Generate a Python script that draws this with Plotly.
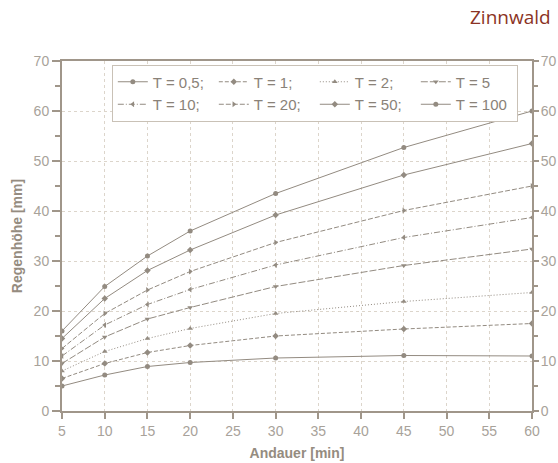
import plotly.graph_objects as go

# Rainfall depth (mm) by duration (min) for return periods T (years)
durations = [5, 10, 15, 20, 30, 45, 60]
return_labels = ["T = 0,5;", "T = 1;", "T = 2;", "T = 5", "T = 10;", "T = 20;", "T = 50;", "T = 100"]
depth_t05 = [5.0, 7.2, 8.9, 9.7, 10.6, 11.1, 11.0]
depth_t1 = [6.5, 9.5, 11.7, 13.1, 15.0, 16.4, 17.5]
depth_t2 = [8.0, 11.9, 14.5, 16.5, 19.5, 21.9, 23.7]
depth_t5 = [9.5, 14.8, 18.4, 20.7, 24.9, 29.1, 32.4]
depth_t10 = [11.0, 17.2, 21.3, 24.3, 29.2, 34.7, 38.7]
depth_t20 = [12.5, 19.5, 24.2, 27.9, 33.7, 40.1, 45.0]
depth_t50 = [14.5, 22.5, 28.1, 32.2, 39.2, 47.2, 53.5]
depth_t100 = [16.0, 24.9, 31.0, 36.0, 43.5, 52.7, 60.0]

series = [depth_t05, depth_t1, depth_t2, depth_t5, depth_t10, depth_t20, depth_t50, depth_t100]
dashes = ["solid", "4px,2px", "1px,2px", "7px,2px", "6px,2px,1px,2px", "5px,2px", "solid", "solid"]
symbols = ["circle", "diamond", "triangle-up", "triangle-down", "triangle-left",
           "triangle-right", "diamond", "circle"]

line_col = "#938b81"
axis_col = "#a0968a"
text_col = "#a8a29a"
grid_col = "#dcd5cb"

fig = go.Figure()
for label, ys, dash, sym in zip(return_labels, series, dashes, symbols):
    fig.add_trace(go.Scatter(
        x=durations, y=ys, name=label, mode="lines+markers",
        line=dict(color=line_col, width=1, dash=dash),
        marker=dict(symbol=sym, size=5, color=line_col),
    ))

fig.update_layout(
    width=558, height=463,
    margin=dict(l=62, r=26, t=61, b=52),
    paper_bgcolor="white", plot_bgcolor="white",
    font=dict(family="Liberation Sans, Arial, sans-serif", color=text_col, size=14),
    showlegend=True,
    legend=dict(
        orientation="h", x=0.106, y=0.99, xanchor="left", yanchor="top",
        bordercolor="#c9c1b6", borderwidth=1, bgcolor="white",
        font=dict(size=15, color="#8a8278"), itemwidth=30,
        entrywidth=56, tracegroupgap=0,
    ),
    xaxis=dict(
        range=[5, 60], tickmode="array", tickvals=list(range(5, 61, 5)),
        showline=True, linecolor=axis_col, linewidth=2, mirror=True,
        ticks="outside", ticklen=6, tickcolor=axis_col, tickwidth=1.5,
        showgrid=True, gridcolor=grid_col, griddash="dot", gridwidth=1,
        zeroline=False, automargin=False,
        title=dict(text="<b>Andauer [min]</b>", font=dict(size=14, color="#958c80"), standoff=10),
    ),
    yaxis=dict(
        range=[0, 70], dtick=10,
        showline=True, linecolor=axis_col, linewidth=2,
        ticks="outside", ticklen=8, tickcolor=axis_col, tickwidth=1.5,
        minor=dict(dtick=5, ticks="outside", ticklen=5, tickcolor=axis_col, showgrid=False),
        showgrid=True, gridcolor=grid_col, griddash="dot", gridwidth=1,
        zeroline=False, automargin=False,
        title=dict(text="<b>Regenhöhe [mm]</b>", font=dict(size=14, color="#958c80"), standoff=8),
    ),
    yaxis2=dict(
        overlaying="y", side="right", range=[0, 70], dtick=10,
        showline=True, linecolor=axis_col, linewidth=2,
        ticks="outside", ticklen=5, tickcolor=axis_col, tickwidth=1.5,
        ticklabelstandoff=-1,
        minor=dict(dtick=5, ticks="outside", ticklen=4, tickcolor=axis_col, showgrid=False),
        showgrid=False, zeroline=False, automargin=False,
    ),
)

# right-hand depth scale
fig.add_trace(go.Scatter(x=[durations[0]], y=[0], yaxis="y2", mode="markers",
                         marker=dict(opacity=0), showlegend=False, hoverinfo="skip"))

fig.add_annotation(
    text="Zinnwald", xref="paper", yref="paper", x=1.0, y=1.0,
    xshift=21, yshift=44, xanchor="right", yanchor="middle", showarrow=False,
    font=dict(family="Open Sans, sans-serif", size=19, color="#8b3324"),
)

fig.write_html("out.html")
